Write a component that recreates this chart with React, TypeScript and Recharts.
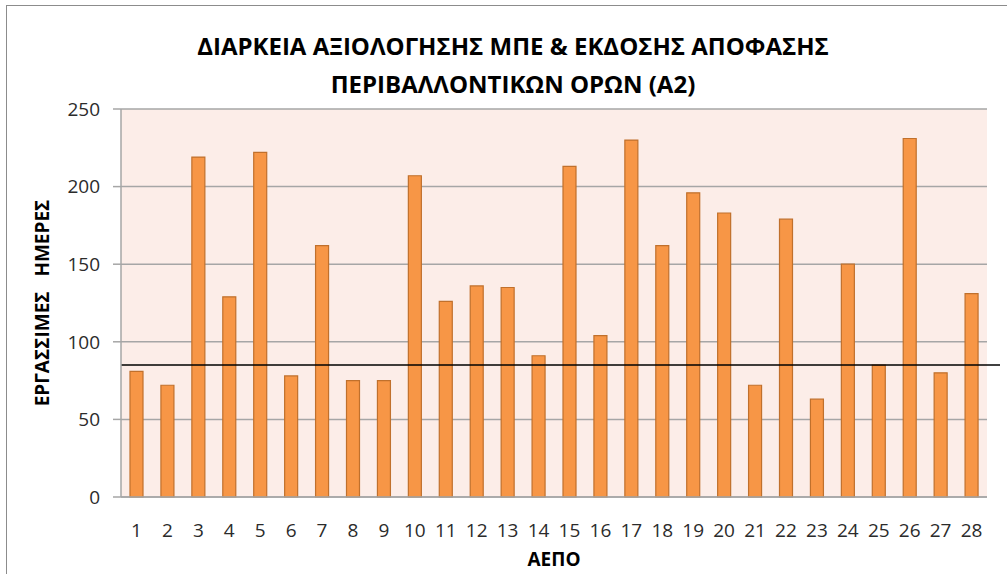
import { BarChart, Bar, XAxis, YAxis, CartesianGrid, ReferenceLine, Label } from "recharts";

const categories = [
  "1", "2", "3", "4", "5", "6", "7", "8", "9", "10", "11", "12", "13", "14",
  "15", "16", "17", "18", "19", "20", "21", "22", "23", "24", "25", "26", "27", "28",
];
const workingDays = [
  81, 72, 219, 129, 222, 78, 162, 75, 75, 207, 126, 136, 135, 91,
  213, 104, 230, 162, 196, 183, 72, 179, 63, 150, 85, 231, 80, 131,
];
const averageDays = 85;
const yTicks = [0, 50, 100, 150, 200, 250];
const titleLines = [
  "ΔΙΑΡΚΕΙΑ ΑΞΙΟΛΟΓΗΣΗΣ ΜΠΕ & ΕΚΔΟΣΗΣ ΑΠΟΦΑΣΗΣ",
  "ΠΕΡΙΒΑΛΛΟΝΤΙΚΩΝ ΟΡΩΝ (Α2)",
];
const xTitle = "ΑΕΠΟ";
const yTitle = "ΕΡΓΑΣΣΙΜΕΣ   ΗΜΕΡΕΣ";

const data = categories.map((c, i) => ({ aepo: c, days: workingDays[i] }));

const FONT = "'Open Sans', 'Noto Sans', sans-serif";

// black average line runs a little past the plot's right edge, like the original
const AvgLine = (props: any) => (
  <line x1={props.x1} y1={props.y1} x2={props.x2 + 13} y2={props.y2} stroke="#000" strokeWidth={1.5} />
);

export default function App() {
  return (
    <div style={{ position: "absolute", left: 0, top: 0, width: 1007, height: 574, overflow: "hidden", background: "#fff" }}>
      <div
        style={{
          position: "absolute",
          left: 6,
          top: 5,
          width: 1020,
          height: 600,
          border: "1.5px solid #8c8c8c",
          boxSizing: "border-box",
        }}
      />
      <div
        style={{
          position: "absolute",
          left: 0,
          top: 27,
          width: 1026,
          textAlign: "center",
          fontFamily: FONT,
          fontWeight: 700,
          fontSize: 24,
          lineHeight: "38px",
          color: "#000",
        }}
      >
        {titleLines.map((t) => (
          <div key={t}>{t}</div>
        ))}
      </div>
      <BarChart
        width={1007}
        height={574}
        data={data}
        margin={{ top: 109, right: 20, bottom: 0, left: 0 }}
        style={{ position: "absolute", left: 0, top: 0 }}
      >
        <CartesianGrid vertical={false} stroke="#a6a6a6" strokeWidth={1.5} fill="#fcede8" fillOpacity={1} />
        <XAxis
          dataKey="aepo"
          height={77}
          tickLine={false}
          tickSize={0}
          tickMargin={27}
          interval={0}
          axisLine={{ stroke: "#a6a6a6", strokeWidth: 1.5 }}
          tick={{ fill: "#2b2b2b", fontSize: 19, fontFamily: FONT }}
        >
          <Label
            content={({ viewBox }: any) => (
              <text
                x={viewBox.x + viewBox.width / 2}
                y={viewBox.y + 69}
                textAnchor="middle"
                fontFamily={FONT}
                fontWeight={700}
                fontSize={19}
                fill="#000"
              >
                {xTitle}
              </text>
            )}
          />
        </XAxis>
        <YAxis
          width={121}
          domain={[0, 250]}
          ticks={yTicks}
          tickSize={8}
          tickMargin={13}
          stroke="#a6a6a6"
          axisLine={{ stroke: "#a6a6a6", strokeWidth: 1.5 }}
          tickLine={{ stroke: "#a6a6a6", strokeWidth: 1.5 }}
          tick={{ fill: "#2b2b2b", fontSize: 19, fontFamily: FONT }}
        >
          <Label
            content={({ viewBox }: any) => {
              const cy = viewBox.y + viewBox.height / 2;
              return (
                <text
                  x={49}
                  y={cy}
                  transform={`rotate(-90 49 ${cy})`}
                  textAnchor="middle"
                  fontFamily={FONT}
                  fontWeight={700}
                  fontSize={19}
                  fill="#000"
                  style={{ whiteSpace: "pre" }}
                >
                  {yTitle}
                </text>
              );
            }}
          />
        </YAxis>
        <Bar dataKey="days" fill="#f79646" stroke="#c0702c" strokeWidth={1.2} barSize={13} isAnimationActive={false} />
        <ReferenceLine y={averageDays} shape={AvgLine} />
      </BarChart>
    </div>
  );
}
